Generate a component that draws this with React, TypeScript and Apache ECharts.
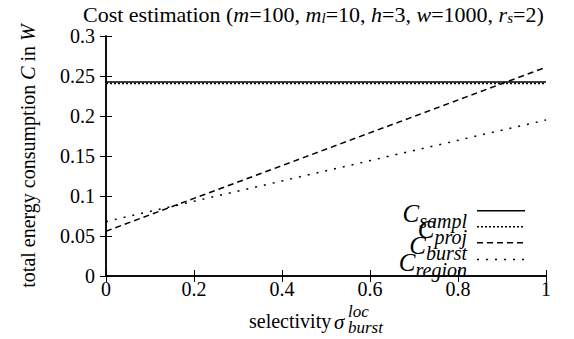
import React, { useEffect, useRef } from 'react';
import * as echarts from 'echarts';

const xs = [0, 1];
const cSampl = [0.2425, 0.2425];
const cProj = [0.2405, 0.2405];
const cBurst = [0.056, 0.261];
const cRegion = [0.068, 0.195];
const seriesKeys = ['sampl', 'proj', 'burst', 'region'];
const xTicks = { min: 0, max: 1, interval: 0.2 };
const yTicks = { min: 0, max: 0.3, interval: 0.05 };

const FONT = 'Times New Roman';

export default function App() {
  const ref = useRef<HTMLDivElement>(null);
  useEffect(() => {
    if (!ref.current) return;
    const chart = echarts.init(ref.current, undefined, { renderer: 'svg' });
    const pairs = (ys: number[]) => xs.map((x, i) => [x, ys[i]]);
    const values = [cSampl, cProj, cBurst, cRegion];
    const dashes: any[] = ['solid', [2, 2], [6, 4], [2, 7]];
    const legendDash: any[] = [null, [2, 2], [6, 4], [2, 7]];
    const legendRows = [210.7, 226.7, 242.7, 259.5];
    const axisLine = { show: true, lineStyle: { color: '#000', width: 1.5 } };
    const tick = { show: true, inside: true, length: 6, lineStyle: { color: '#000', width: 1 } };
    const up = { fontFamily: FONT, fontStyle: 'normal', fontWeight: 'normal' };
    const it = { fontFamily: FONT, fontStyle: 'italic', fontWeight: 'normal' };
    const legendGraphics: any[] = [];
    seriesKeys.forEach((k, i) => {
      legendGraphics.push({
        type: 'line',
        shape: { x1: 477, y1: legendRows[i], x2: 525, y2: legendRows[i] },
        style: { stroke: '#000', lineWidth: 1.5, lineDash: legendDash[i] },
      });
      legendGraphics.push({
        type: 'text',
        x: 467,
        y: legendRows[i] - 10,
        style: {
          text: '{c|C}{s|' + k + '}',
          align: 'right',
          verticalAlign: 'top',
          rich: {
            c: { ...it, fontSize: 25, fill: '#000', lineHeight: 20, verticalAlign: 'top' },
            s: { ...it, fontSize: 20, fill: '#000', lineHeight: 12, padding: [10, 0, 0, 0], verticalAlign: 'top' },
          },
        },
      });
    });
    chart.setOption({
      animation: false,
      textStyle: { ...up },
      title: {
        text: '{n|Cost estimation (}{i|m}{n|=100, }{i|m}{sub|l}{n|=10, }{i|h}{n|=3, }{i|w}{n|=1000, }{i|r}{sub|s}{n|=2)}',
        left: 83,
        top: 1,
        padding: 0,
        textStyle: {
          ...up,
          rich: {
            n: { ...up, fontSize: 22, color: '#000', lineHeight: 24, verticalAlign: 'bottom' },
            i: { ...it, fontSize: 22, color: '#000', lineHeight: 24, verticalAlign: 'bottom' },
            sub: { ...it, fontSize: 15, color: '#000', lineHeight: 14, verticalAlign: 'bottom' },
          },
        },
      },
      grid: { left: 106, right: 28, top: 36, bottom: 63 },
      xAxis: [
        {
          type: 'value', ...xTicks, position: 'bottom',
          axisLine, axisTick: tick, splitLine: { show: false },
          axisLabel: { ...up, fontSize: 20, color: '#000', margin: 3 },
        },
        {
          type: 'value', ...xTicks, position: 'top',
          axisLine, axisTick: tick, splitLine: { show: false },
          axisLabel: { show: false },
        },
      ],
      yAxis: [
        {
          type: 'value', ...yTicks, position: 'left',
          axisLine, axisTick: tick, splitLine: { show: false },
          axisLabel: { ...up, fontSize: 20, color: '#000', margin: 11 },
          name: '{n|total energy consumption }{i|C}{n| in }{i|W}',
          nameLocation: 'middle',
          nameGap: 68,
          nameTextStyle: {
            ...up,
            rich: {
              n: { ...up, fontSize: 20, color: '#000' },
              i: { ...it, fontSize: 20, color: '#000' },
            },
          },
        },
        {
          type: 'value', ...yTicks, position: 'right',
          axisLine, axisTick: tick, splitLine: { show: false },
          axisLabel: { show: false },
        },
      ],
      graphic: [
        { type: 'text', x: 249, y: 311, style: { text: 'selectivity', ...up, fontSize: 20, fill: '#000' } },
        { type: 'text', x: 334, y: 311, style: { text: 'σ', ...it, fontSize: 21, fill: '#000' } },
        { type: 'text', x: 348, y: 303, style: { text: 'loc', ...it, fontSize: 17, fill: '#000' } },
        { type: 'text', x: 348, y: 319, style: { text: 'burst', ...it, fontSize: 17, fill: '#000' } },
        ...legendGraphics,
      ],
      series: seriesKeys.map((k, i) => ({
        name: 'C_' + k,
        type: 'line',
        data: pairs(values[i]),
        showSymbol: false,
        symbol: 'none',
        color: '#000',
        lineStyle: { color: '#000', width: 1.5, type: dashes[i] },
      })),
    });
    return () => chart.dispose();
  }, []);
  return <div ref={ref} style={{ width: 574, height: 339, marginLeft: -8, marginTop: -8 }} />;
}
